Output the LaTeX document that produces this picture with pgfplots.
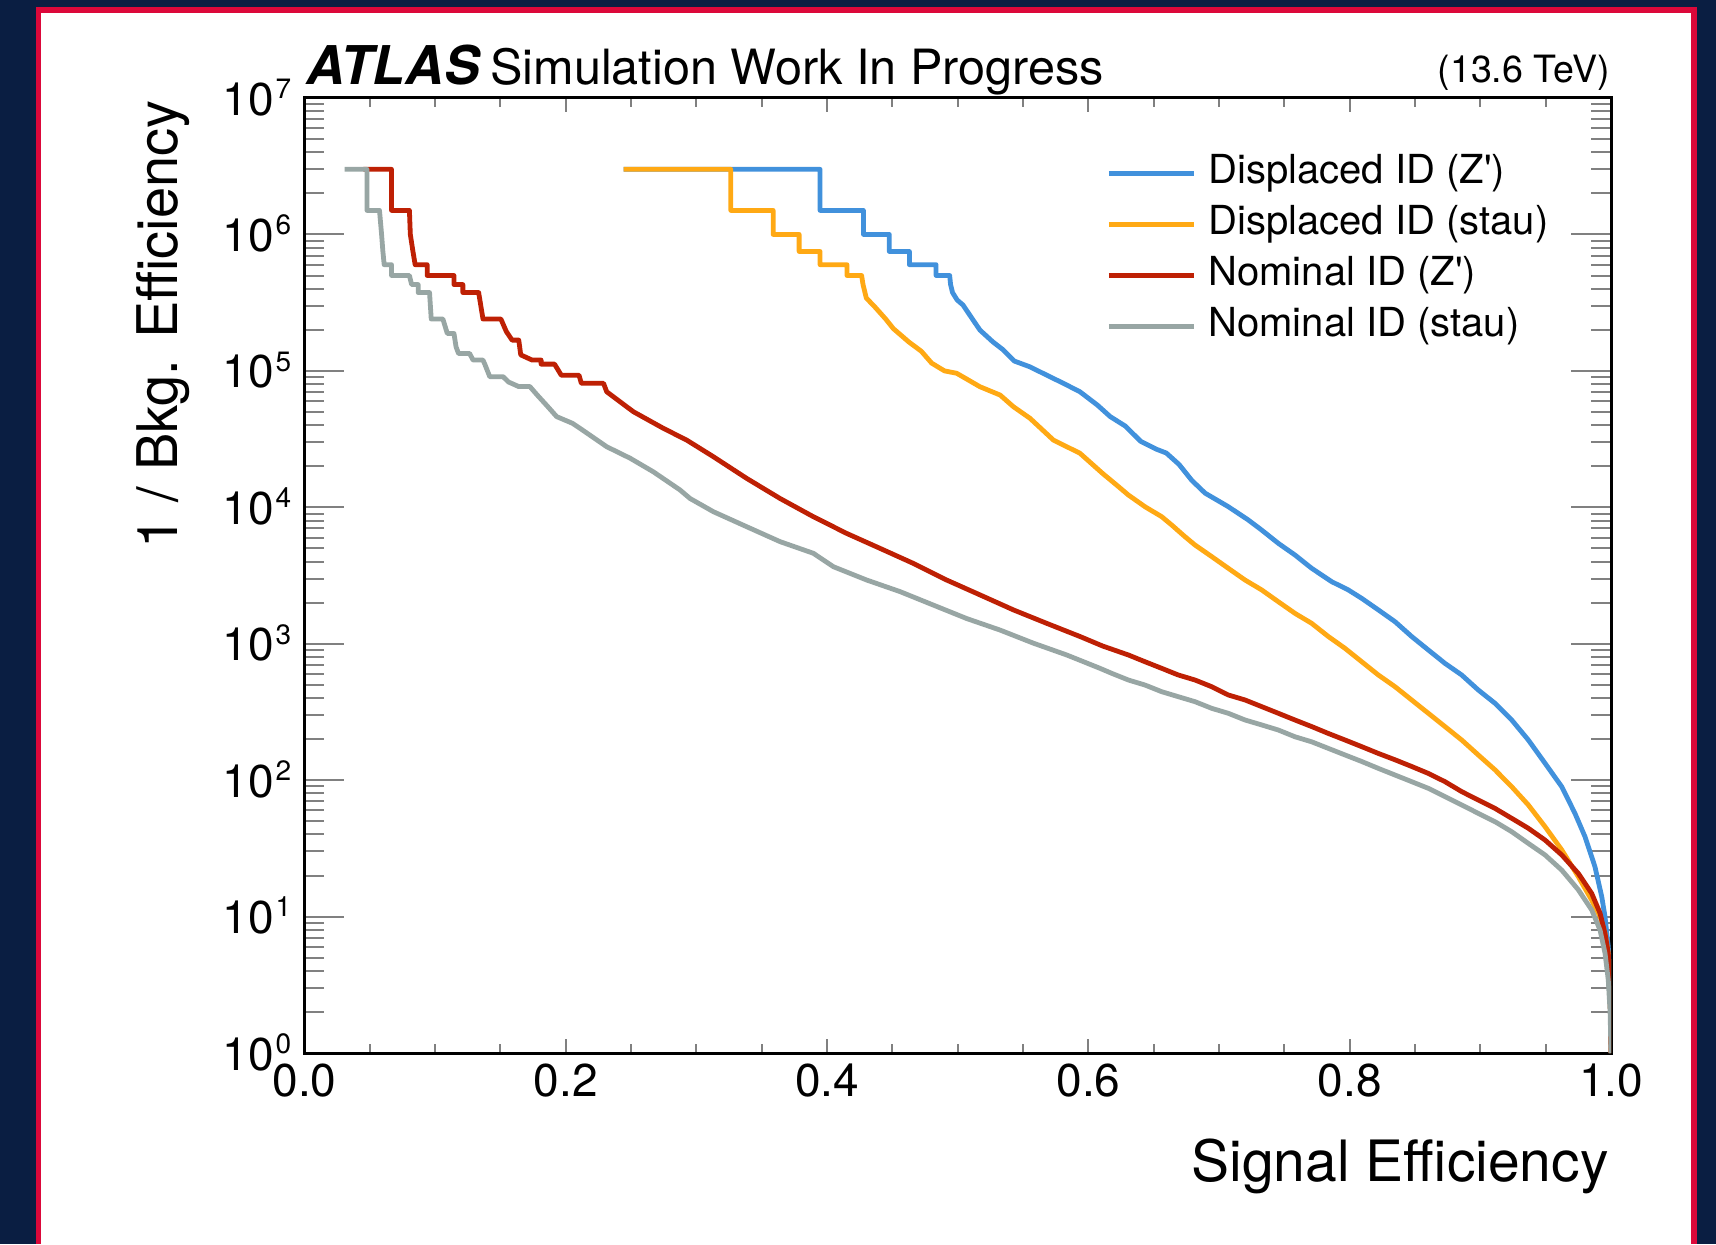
\documentclass[border=0pt]{standalone}
\usepackage{fontspec}
\setmainfont{TeX Gyre Heros}
\usepackage{pgfplots}
\pgfplotsset{compat=1.18}
\definecolor{cblue}{RGB}{65,145,220}
\definecolor{corange}{RGB}{255,169,20}
\definecolor{cred}{RGB}{190,32,4}
\definecolor{cgray}{RGB}{152,166,164}
\definecolor{navybg}{RGB}{10,30,66}
\definecolor{borderred}{RGB}{220,8,58}
\newcommand{\tl}[1]{10\hspace{0.8pt}\raisebox{8.3pt}{\fontsize{14}{14}\selectfont #1}}
\begin{document}
\begin{tikzpicture}
\useasboundingbox (-152.25pt,-95.5pt) rectangle (705.75pt,526.5pt);
\fill[navybg] (-152.25pt,-95.5pt) rectangle (705.75pt,526.5pt);
\fill[borderred] (-134.05pt,-95.5pt) rectangle (696.35pt,522.85pt);
\fill[white] (-131.6pt,-95.5pt) rectangle (693.4pt,520.15pt);
\begin{axis}[
  at={(0pt,0pt)}, anchor=south west,
  scale only axis, width=653.25pt, height=477.5pt,
  xmin=0, xmax=1, ymin=1, ymax=1e7, ymode=log,
  xtick={0,0.2,0.4,0.6,0.8,1.0},
  xticklabels={0.0,0.2,0.4,0.6,0.8,1.0},
  minor x tick num=3,
  ytick={1,10,100,1000,10000,100000,1000000,10000000},
  yticklabels={\tl{0},\tl{1},\tl{2},\tl{3},\tl{4},\tl{5},\tl{6},\tl{7}},
  minor ytick={2,3,4,5,6,7,8,9,20,30,40,50,60,70,80,90,200,300,400,500,600,700,800,900,2e3,3e3,4e3,5e3,6e3,7e3,8e3,9e3,2e4,3e4,4e4,5e4,6e4,7e4,8e4,9e4,2e5,3e5,4e5,5e5,6e5,7e5,8e5,9e5,2e6,3e6,4e6,5e6,6e6,7e6,8e6,9e6},
  tick align=inside,
  axis line style={line width=1.5pt},
  xtick style={line width=1pt, /pgfplots/major tick length=7pt, /pgfplots/minor tick length=4.3pt},
  ytick style={line width=1pt, /pgfplots/major tick length=20pt, /pgfplots/minor tick length=10pt},
  tick label style={font=\fontsize{23}{23}\selectfont},
  xticklabel style={anchor=north, inner sep=0pt, yshift=-5pt},
  yticklabel style={anchor=base east, inner sep=0pt, xshift=-6.5pt, yshift=-8.5pt},
  legend style={at={(0.6135,0.9421)}, anchor=north west, draw=none, fill=none,
    inner sep=0pt, row sep=5.5pt, column sep=6pt,
    nodes={inner sep=0pt, text height=15pt, text depth=5pt},
    font=\fontsize{20}{20}\selectfont},
  legend cell align=left,
  legend image code/.code={\draw[#1, line width=2.5pt] (0pt,0pt) -- (42.5pt,0pt);},
  every axis plot/.append style={line width=2.4pt, line join=round},
]
\addplot[cblue] coordinates {
(0.2443,3e6) (0.3946,3e6) (0.3946,1.5e6) (0.4278,1.5e6) (0.4278,1e6) (0.4476,1e6) (0.4476,7.5e5) (0.463,7.5e5) (0.463,6e5) (0.4834,6e5) (0.4834,5e5) (0.4938,5e5) (0.4945,4.29e5) (0.496,3.75e5) (0.4995,3.31e5) (0.504,3.04e5) (0.5112,2.4e5) (0.517,1.99e5) (0.5269,1.63e5) (0.5346,1.43e5) (0.5433,1.18e5) (0.5553,1.07e5) (0.5681,9.3e4) (0.5809,8.1e4) (0.5935,7.03e4) (0.6069,5.61e4) (0.6167,4.62e4) (0.6284,3.93e4) (0.6401,3.04e4) (0.6518,2.67e4) (0.6596,2.5e4) (0.6694,2.06e4) (0.679,1.58e4) (0.6893,1.27e4) (0.7071,1.01e4) (0.7224,8.07e3) (0.7326,6.81e3) (0.7454,5.44e3) (0.7581,4.47e3) (0.7709,3.57e3) (0.7862,2.85e3) (0.7989,2.48e3) (0.8092,2.15e3) (0.8219,1.77e3) (0.8347,1.45e3) (0.8474,1.13e3) (0.8602,899) (0.8729,718) (0.8857,590) (0.8984,458) (0.9112,366) (0.924,276) (0.9367,197) (0.9495,133) (0.9623,89.5) (0.9724,57.1) (0.9801,38.5) (0.9877,23.2) (0.9929,14.0) (0.9954,9.98) (0.9979,6.01) (0.9992,3.43) (0.9997,2.3) (1.0,1.0)
};
\addlegendentry{Displaced ID (Z\textquotesingle)}
\addplot[corange] coordinates {
(0.2443,3e6) (0.3263,3e6) (0.3263,1.5e6) (0.3587,1.5e6) (0.3587,1e6) (0.3786,1e6) (0.3786,7.5e5) (0.3946,7.5e5) (0.3946,6e5) (0.4152,6e5) (0.4152,5e5) (0.4264,5e5) (0.4275,4.29e5) (0.43,3.42e5) (0.437,2.91e5) (0.4448,2.4e5) (0.4507,2.04e5) (0.4625,1.63e5) (0.4722,1.39e5) (0.48,1.14e5) (0.4898,1.0e5) (0.4992,9.6e4) (0.517,7.65e4) (0.5324,6.65e4) (0.5426,5.46e4) (0.5553,4.49e4) (0.5732,3.11e4) (0.5935,2.49e4) (0.6109,1.77e4) (0.6229,1.42e4) (0.6306,1.23e4) (0.6433,1.01e4) (0.6561,8.53e3) (0.6638,7.41e3) (0.6739,6.09e3) (0.6816,5.29e3) (0.6944,4.35e3) (0.7071,3.57e3) (0.7199,2.93e3) (0.7326,2.48e3) (0.7454,2.03e3) (0.7581,1.67e3) (0.7709,1.41e3) (0.7836,1.13e3) (0.7964,925) (0.8092,738) (0.8219,590) (0.8347,484) (0.8474,387) (0.8602,309) (0.8729,247) (0.8857,197) (0.8984,153) (0.9112,119) (0.924,89.5) (0.9367,65.8) (0.9495,45.6) (0.9623,30.8) (0.975,19.6) (0.9852,13.2) (0.9916,10) (0.9954,7.5) (0.9979,5.4) (0.9993,3.0) (1.0,1.0)
};
\addlegendentry{Displaced ID (stau)}
\addplot[cred] coordinates {
(0.045,3e6) (0.0666,3e6) (0.0666,1.5e6) (0.0803,1.5e6) (0.081,1.0e6) (0.083,7.5e5) (0.0847,6e5) (0.0939,6e5) (0.0939,5e5) (0.1144,5e5) (0.1144,4.29e5) (0.1212,4.29e5) (0.1212,3.75e5) (0.1333,3.75e5) (0.1366,2.4e5) (0.1503,2.4e5) (0.1545,1.94e5) (0.1589,1.68e5) (0.164,1.68e5) (0.1655,1.31e5) (0.1742,1.2e5) (0.1811,1.2e5) (0.1811,1.12e5) (0.1914,1.12e5) (0.1965,9.3e4) (0.2101,9.3e4) (0.2119,8.1e4) (0.2289,8.1e4) (0.2313,7.03e4) (0.2517,5.02e4) (0.2747,3.79e4) (0.2925,3.11e4) (0.3129,2.35e4) (0.3384,1.63e4) (0.364,1.16e4) (0.3895,8.53e3) (0.4149,6.44e3) (0.4405,5.0e3) (0.466,3.88e3) (0.4915,2.93e3) (0.517,2.28e3) (0.5426,1.77e3) (0.5681,1.41e3) (0.5935,1.13e3) (0.6109,962) (0.6306,827) (0.6433,738) (0.6561,660) (0.6688,590) (0.6816,542) (0.6944,484) (0.7071,421) (0.7199,387) (0.7326,346) (0.7454,309) (0.7581,276) (0.7709,247) (0.7836,220) (0.7964,197) (0.8092,176) (0.8219,157) (0.8347,141) (0.8474,126) (0.8602,112) (0.8729,97.5) (0.8857,82.4) (0.8984,71.5) (0.9112,62.1) (0.924,52.5) (0.9367,44.4) (0.9495,36.4) (0.9623,28.3) (0.975,20.7) (0.9852,14.8) (0.9916,10.6) (0.9954,7.5) (0.9979,5.4) (0.9993,3.0) (1.0,1.0)
};
\addlegendentry{Nominal ID (Z\textquotesingle)}
\addplot[cgray] coordinates {
(0.0307,3e6) (0.0478,3e6) (0.0478,1.5e6) (0.0574,1.5e6) (0.059,1.0e6) (0.06,7.5e5) (0.061,6e5) (0.0666,6e5) (0.0666,5e5) (0.0803,5e5) (0.082,4.29e5) (0.087,4.29e5) (0.087,3.75e5) (0.0957,3.75e5) (0.097,2.4e5) (0.1059,2.4e5) (0.1093,1.88e5) (0.1144,1.88e5) (0.116,1.5e5) (0.1179,1.34e5) (0.1264,1.34e5) (0.129,1.2e5) (0.1366,1.2e5) (0.138,1.12e5) (0.1418,9.06e4) (0.152,9.06e4) (0.156,8.3e4) (0.164,7.67e4) (0.1725,7.67e4) (0.178,6.67e4) (0.1862,5.47e4) (0.193,4.62e4) (0.205,4.13e4) (0.2109,3.79e4) (0.2313,2.78e4) (0.2492,2.29e4) (0.267,1.82e4) (0.2874,1.34e4) (0.2951,1.16e4) (0.3129,9.29e3) (0.3384,7.21e3) (0.364,5.6e3) (0.3895,4.6e3) (0.4048,3.67e3) (0.4303,2.93e3) (0.4558,2.41e3) (0.4813,1.92e3) (0.5068,1.53e3) (0.5323,1.26e3) (0.5578,1.01e3) (0.5834,827) (0.6089,660) (0.6178,607) (0.6306,542) (0.6433,498) (0.6561,445) (0.6688,409) (0.6816,376) (0.6944,336) (0.7071,309) (0.7199,276) (0.7326,254) (0.7454,233) (0.7581,208) (0.7709,191) (0.7836,171) (0.7964,153) (0.8092,137) (0.8219,122) (0.8347,109) (0.8474,97.5) (0.8602,87.1) (0.8729,75.7) (0.8857,65.8) (0.8984,57.1) (0.9112,49.6) (0.924,41.9) (0.9367,34.4) (0.9495,28.3) (0.9623,21.9) (0.975,15.7) (0.9852,11.2) (0.9916,7.97) (0.9954,5.4) (0.9979,3.43) (0.9993,2.0) (1.0,1.0)
};
\addlegendentry{Nominal ID (stau)}
\end{axis}
\node[anchor=base west, inner sep=0pt, font=\fontsize{26.7}{26.7}\selectfont\bfseries\itshape] at (0.75pt,484pt) {ATLAS};
\node[anchor=base west, inner sep=0pt, font=\fontsize{24.3}{24.3}\selectfont] at (92.75pt,484pt) {Simulation Work In Progress};
\node[anchor=base east, inner sep=0pt, font=\fontsize{18.8}{18.8}\selectfont] at (652.75pt,485pt) {(13.6 TeV)};
\node[anchor=base east, inner sep=0pt, font=\fontsize{28.5}{28.5}\selectfont] at (652.25pt,-64.35pt) {Signal Efficiency};
\node[anchor=base east, rotate=90, inner sep=0pt, font=\fontsize{28}{28}\selectfont] at (-63.25pt,476.5pt) {1 / Bkg. Efficiency};
\end{tikzpicture}
\end{document}
